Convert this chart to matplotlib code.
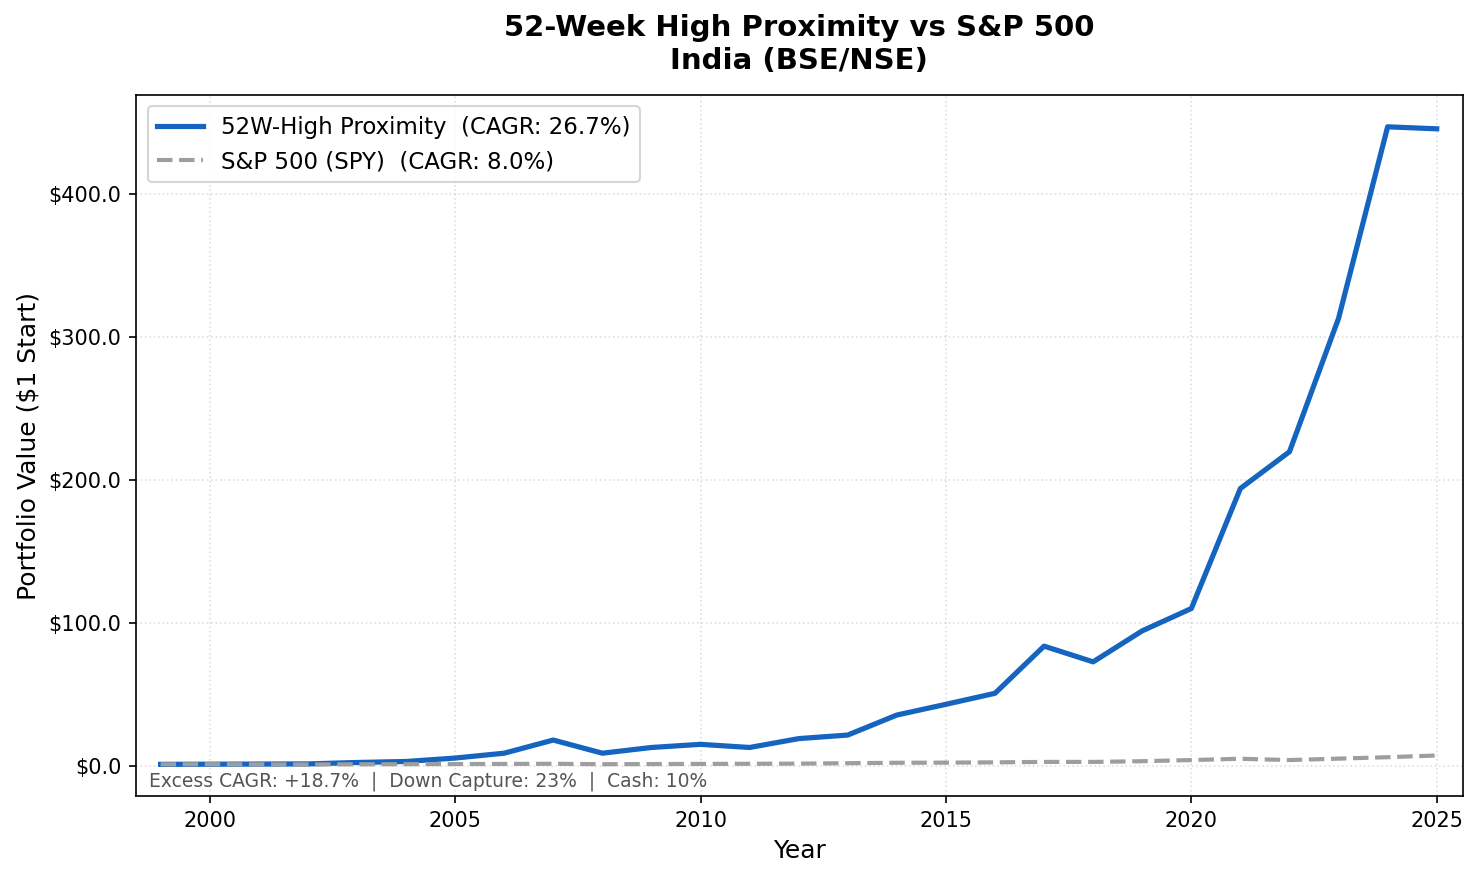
from matplotlib import pyplot as plt
from matplotlib.ticker import FuncFormatter

# yearly portfolio values ($1 start)
years = list(range(1999, 2026))
strategyValues = [1.0, 1.1, 1.2, 1.3, 2.3, 3.0, 5.4, 8.8, 18.0, 8.8, 12.8, 15.0, 12.8, 19.0, 21.5,
                  35.5, 43.0, 50.7, 83.7, 72.7, 94.4, 110.0, 194.0, 219.7, 313.0, 447.0, 445.6]
spyValues = [1.0, 1.1, 1.0, 0.9, 1.0, 1.1, 1.2, 1.3, 1.4, 1.1, 1.2, 1.3, 1.4, 1.5, 1.8,
             2.1, 2.2, 2.4, 2.7, 2.7, 3.2, 4.0, 4.9, 4.0, 5.0, 6.0, 7.2]

strategyLabel = "52W-High Proximity  (CAGR: 26.7%)"
spyLabel = "S&P 500 (SPY)  (CAGR: 8.0%)"
statsText = "Excess CAGR: +18.7%  |  Down Capture: 23%  |  Cash: 10%"

fig, ax = plt.subplots(figsize=(9.86, 5.86), dpi=150)
fig.subplots_adjust(left=0.092, right=0.989, top=0.892, bottom=0.094)

ax.plot(years, strategyValues, color='#1565C0', linewidth=2.5, label=strategyLabel)
ax.plot(years, spyValues, color='#9E9E9E', linewidth=2, linestyle='--', label=spyLabel)

ax.set_xlim(1998.5, 2025.53)
ax.yaxis.set_major_formatter(FuncFormatter(lambda v, p: "${:.1f}".format(v)))
ax.grid(True, linestyle=':', alpha=0.4)

ax.set_title("52-Week High Proximity vs S&P 500\nIndia (BSE/NSE)", fontsize=14, fontweight='bold', pad=12.5)
ax.set_xlabel("Year", fontsize=12)
ax.set_ylabel("Portfolio Value ($1 Start)", fontsize=12)
ax.legend(loc='upper left', fontsize=11)

ax.text(0.01, 0.008, statsText, transform=ax.transAxes, fontsize=9, color='#555555', va='bottom')

plt.savefig('out.png', dpi=150)
